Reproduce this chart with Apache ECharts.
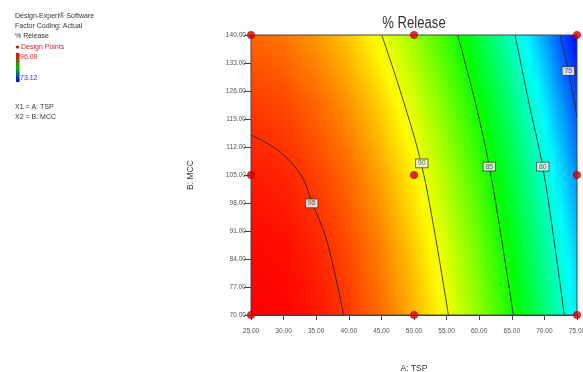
<!DOCTYPE html>
<html>
<head>
<meta charset="utf-8">
<title>% Release</title>
<script src="https://cdn.jsdelivr.net/npm/echarts@6/dist/echarts.min.js"></script>
<style>
  html, body { margin: 0; padding: 0; background: #fff; }
  #chart { width: 583px; height: 372px; }
</style>
</head>
<body>
<div id="chart"></div>
<script>
// Factor A (TSP) grid columns, also the x tick positions
const tspNodes = [25, 30, 35, 40, 45, 50, 55, 60, 65, 70, 75];
// Factor B (MCC) grid rows
const mccNodes = [70, 87.5, 105, 122.5, 140];
// MCC tick positions
const mccTicks = [70, 77, 84, 91, 98, 105, 112, 119, 126, 133, 140];

// % Release response at each (TSP, MCC) node, one row per MCC level
const release70 = [96.09, 96.04, 95.63, 94.82, 93.63, 92.06, 90.12, 87.80, 85.11, 82.04, 78.59];
const release875 = [95.94, 95.80, 95.28, 94.38, 93.11, 91.46, 89.43, 87.03, 84.26, 81.10, 77.58];
const release105 = [95.50, 95.27, 94.67, 93.69, 92.33, 90.60, 88.49, 86.01, 83.15, 79.92, 76.31];
const release1225 = [94.80, 94.49, 93.80, 92.74, 91.30, 89.49, 87.30, 84.73, 81.79, 78.47, 74.78];
const release140 = [93.84, 93.45, 92.68, 91.54, 90.02, 88.12, 85.85, 83.20, 80.18, 76.78, 73.12];
const releaseRows = [release70, release875, release105, release1225, release140];

const releaseMax = 96.09;
const releaseMin = 73.12;

// Contour lines of % Release: [TSP, MCC]
const contour95 = [[25, 115], [29.45, 110.8], [32.8, 104.6], [34.3, 98.3], [36.6, 88.75], [39.2, 70]];
const contour90 = [[45.05, 140], [47.85, 126.25], [51.1, 108], [53.37, 88.75], [55.27, 70]];
const contour85 = [[56.7, 140], [59.5, 122.5], [61.55, 107.1], [63.45, 88.75], [65.23, 70]];
const contour80 = [[65.5, 140], [67.7, 122.5], [69.74, 107.1], [71.47, 88.75], [73.05, 70]];
const contour75 = [[72.4, 140], [73.67, 131], [75, 119.6]];
const contourLevels = ['95', '90', '85', '80', '75'];
const contourLabelAt = [[34.31, 97.9], [51.18, 107.9], [61.55, 107.1], [69.74, 107.1], [73.67, 131]];

// Design points of the factorial design
const designTSP = [25, 50, 75, 25, 50, 75, 25, 50, 75];
const designMCC = [70, 70, 70, 105, 105, 105, 140, 140, 140];

// Colour ramp: red (max) -> yellow -> green -> cyan -> blue (min)
function ramp(v) {
  let t = (v - releaseMin) / (releaseMax - releaseMin);
  t = Math.max(0, Math.min(1, t));
  const h = 240 * (1 - t);
  return 'hsl(' + h.toFixed(1) + ',100%,50%)';
}
function lerp(a, b, f) { return a + (b - a) * f; }

// one custom item per grid cell
const cellData = [];
for (let j = 0; j < mccNodes.length - 1; j++) {
  for (let i = 0; i < tspNodes.length - 1; i++) {
    cellData.push([(tspNodes[i] + tspNodes[i + 1]) / 2, (mccNodes[j] + mccNodes[j + 1]) / 2, i, j]);
  }
}

function renderCell(params, api) {
  const i = api.value(2), j = api.value(3);
  const pLB = api.coord([tspNodes[i], mccNodes[j]]);
  const pRT = api.coord([tspNodes[i + 1], mccNodes[j + 1]]);
  const left = pLB[0], right = pRT[0], bottom = pLB[1], top = pRT[1];
  const n = 14;
  const children = [];
  for (let s = 0; s < n; s++) {
    const f = (s + 0.5) / n;
    const vl = lerp(releaseRows[j][i], releaseRows[j + 1][i], f);
    const vr = lerp(releaseRows[j][i + 1], releaseRows[j + 1][i + 1], f);
    const stops = [0, 0.25, 0.5, 0.75, 1].map(t => ({ offset: t, color: ramp(lerp(vl, vr, t)) }));
    const yB = bottom - (bottom - top) * s / n;
    const yT = bottom - (bottom - top) * (s + 1) / n;
    children.push({
      type: 'rect',
      shape: { x: left, y: yT - 0.5, width: right - left + 0.6, height: yB - yT + 1 },
      style: { fill: new echarts.graphic.LinearGradient(0, 0, 1, 0, stops) },
      silent: true
    });
  }
  return { type: 'group', children };
}

const font = 'Liberation Sans, Arial, sans-serif';
const contourSets = [contour95, contour90, contour85, contour80, contour75];

const contourSeries = contourSets.map((pts, k) => ({
  type: 'line',
  name: 'contour ' + contourLevels[k],
  data: pts,
  smooth: 0.35,
  symbol: 'none',
  lineStyle: { color: '#1a1a1a', width: 0.8 },
  clip: true,
  silent: true,
  z: 3
}));

const chart = echarts.init(document.getElementById('chart'), null, { renderer: 'canvas' });
chart.setOption({
  animation: false,
  backgroundColor: '#ffffff',
  grid: { left: 251, top: 35, width: 326, height: 280, containLabel: false, outerBoundsMode: 'none' },
  xAxis: {
    type: 'value', min: 25, max: 75, interval: 5,
    name: 'A: TSP', nameLocation: 'middle', nameGap: 49,
    nameTextStyle: { fontFamily: font, fontSize: 8.5, color: '#333' },
    axisLine: { show: true, onZero: false, lineStyle: { color: '#444', width: 1 } },
    axisTick: { show: true, inside: false, length: 5, lineStyle: { color: '#444' } },
    axisLabel: { fontFamily: font, fontSize: 6.6, color: '#555', margin: 13,
      hideOverlap: false, formatter: v => v.toFixed(2) },
    splitLine: { show: false }
  },
  yAxis: {
    type: 'value', min: mccTicks[0], max: mccTicks[mccTicks.length - 1], interval: 7,
    name: 'B: MCC', nameLocation: 'middle', nameGap: 56,
    nameTextStyle: { fontFamily: font, fontSize: 8.5, color: '#333' },
    axisLine: { show: true, onZero: false, lineStyle: { color: '#444', width: 1 } },
    axisTick: { show: true, inside: false, length: 7, lineStyle: { color: '#444' } },
    axisLabel: { fontFamily: font, fontSize: 6.6, color: '#555', margin: 5,
      hideOverlap: false, formatter: v => v.toFixed(2) },
    splitLine: { show: false }
  },
  series: [
    {
      type: 'custom',
      name: 'field',
      data: cellData,
      encode: { x: 0, y: 1 },
      renderItem: renderCell,
      clip: true,
      silent: true,
      z: 1
    },
    ...contourSeries,
    {
      type: 'scatter',
      name: 'contour labels',
      data: contourLabelAt.map((p, k) => [p[0], p[1], contourLevels[k]]),
      symbolSize: 0,
      silent: true,
      z: 4,
      label: {
        show: true, position: 'inside',
        formatter: p => p.value[2],
        fontFamily: font, fontSize: 7, color: '#333',
        backgroundColor: '#ffffff', borderColor: '#333', borderWidth: 0.8,
        padding: [1, 2, 0, 2]
      }
    },
    {
      type: 'scatter',
      name: 'Design Points',
      data: designTSP.map((x, k) => [x, designMCC[k]]),
      symbol: 'circle',
      symbolSize: 7.5,
      itemStyle: { color: '#d40000', borderColor: '#a00000', borderWidth: 0.5 },
      clip: false,
      silent: true,
      z: 6
    }
  ],
  graphic: [
    // plot frame (top and right edges)
    { type: 'rect', shape: { x: 251, y: 35, width: 326, height: 280 },
      style: { fill: 'none', stroke: '#444', lineWidth: 1 }, z: 5, silent: true },
    { type: 'text', x: 414, y: 24, scaleX: 0.82, originX: 0,
      style: { text: '% Release', font: '16px ' + font, fill: '#333', align: 'center', verticalAlign: 'middle' } },
    { type: 'text', x: 15, y: 16, style: { text: 'Design-Expert\u00ae Software', font: '7px ' + font, fill: '#333', verticalAlign: 'middle' } },
    { type: 'text', x: 15, y: 26.5, style: { text: 'Factor Coding: Actual', font: '7px ' + font, fill: '#333', verticalAlign: 'middle' } },
    { type: 'text', x: 15, y: 36.5, style: { text: '% Release', font: '7px ' + font, fill: '#333', verticalAlign: 'middle' } },
    { type: 'circle', shape: { cx: 17.5, cy: 47, r: 1.6 }, style: { fill: '#d40000' } },
    { type: 'text', x: 21, y: 47, style: { text: 'Design Points', font: '7px ' + font, fill: '#e0202a', verticalAlign: 'middle' } },
    { type: 'rect', shape: { x: 16, y: 53, width: 3.5, height: 29 },
      style: { fill: new echarts.graphic.LinearGradient(0, 0, 0, 1, [
        { offset: 0, color: '#ff0000' }, { offset: 0.5, color: '#00c000' }, { offset: 1, color: '#0000ff' }]) } },
    { type: 'text', x: 20, y: 57, style: { text: releaseMax.toFixed(2), font: '7px ' + font, fill: '#e0202a', verticalAlign: 'middle' } },
    { type: 'text', x: 20, y: 78, style: { text: releaseMin.toFixed(2), font: '7px ' + font, fill: '#3030d0', verticalAlign: 'middle' } },
    { type: 'text', x: 15, y: 107.5, style: { text: 'X1 = A: TSP', font: '7px ' + font, fill: '#333', verticalAlign: 'middle' } },
    { type: 'text', x: 15, y: 117, style: { text: 'X2 = B: MCC', font: '7px ' + font, fill: '#333', verticalAlign: 'middle' } }
  ]
});
</script>
</body>
</html>
